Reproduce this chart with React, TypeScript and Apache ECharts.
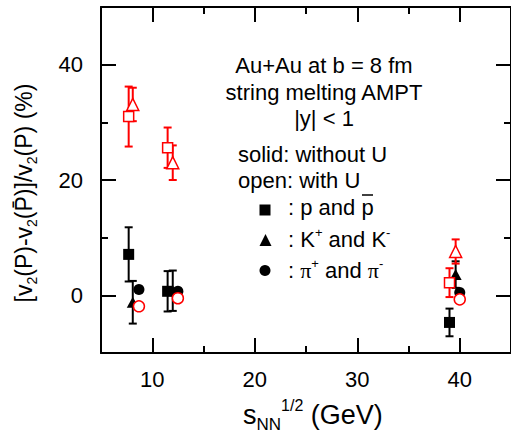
import React, { useEffect, useRef } from 'react';
import * as echarts from 'echarts';

// Beam energies (GeV) with the small horizontal offsets used per species
const protonX = [7.7, 11.5, 39.0];
const kaonX = [8.1, 12.0, 39.6];
const pionX = [8.7, 12.5, 40.0];

// solid = without U (black), open = with U (red)
const protonNoU = [7.1, 0.7, -4.7];
const protonNoUErr = [4.7, 3.5, 2.4];
const protonU = [31.0, 25.6, 2.2];
const protonUErr = [5.2, 3.5, 2.5];
const kaonNoU = [-1.2, 0.8, 3.6];
const kaonNoUErr = [3.7, 3.5, 2.3];
const kaonU = [33.1, 23.0, 7.6];
const kaonUErr = [2.9, 3.0, 2.1];
const pionNoU = [1.0, 0.7, 0.5];
const pionNoUErr = [0.4, 0.4, 0.4];
const pionU = [-1.9, -0.5, -0.7];
const pionUErr = [0.4, 0.4, 0.4];

const xMajorTicks = [10, 20, 30, 40];
const xMinorTicks = [15, 25, 35];
const yMajorTicks = [0, 20, 40];
const yMinorTicks = [10, 30];

const FONT = '"Liberation Sans", Arial, Helvetica, sans-serif';
const RED = '#ff0000';
const BLACK = '#000000';

function errorSeries(xs: number[], ys: number[], errs: number[], color: string, z: number) {
  return {
    type: 'custom',
    xAxisIndex: 0,
    yAxisIndex: 0,
    silent: true,
    z,
    data: xs.map((x, i) => [x, ys[i] - errs[i], ys[i] + errs[i]]),
    encode: { x: 0, y: [1, 2] },
    renderItem: (params: any, api: any) => {
      const x = api.value(0);
      const lo = api.coord([x, api.value(1)]);
      const hi = api.coord([x, api.value(2)]);
      const hw = 4;
      const st = { stroke: color, lineWidth: 2 };
      return {
        type: 'group',
        children: [
          { type: 'line', shape: { x1: lo[0], y1: lo[1], x2: hi[0], y2: hi[1] }, style: st },
          { type: 'line', shape: { x1: lo[0] - hw, y1: lo[1], x2: lo[0] + hw, y2: lo[1] }, style: st },
          { type: 'line', shape: { x1: hi[0] - hw, y1: hi[1], x2: hi[0] + hw, y2: hi[1] }, style: st },
        ],
      };
    },
  };
}

function markerSeries(xs: number[], ys: number[], symbol: string, size: any, open: boolean, z: number) {
  return {
    type: 'scatter',
    xAxisIndex: 0,
    yAxisIndex: 0,
    z,
    silent: true,
    symbol,
    symbolSize: size,
    data: xs.map((x, i) => [x, ys[i]]),
    itemStyle: open
      ? { color: '#ffffff', borderColor: RED, borderWidth: 1.5, opacity: 1 }
      : { color: BLACK, borderWidth: 0, opacity: 1 },
  };
}

function xAx(position: string, ticks: number[], len: number, line: boolean, labels: boolean) {
  return {
    type: 'value',
    min: 5,
    max: 45,
    position,
    splitLine: { show: false },
    axisLine: { show: line, onZero: false, lineStyle: { color: BLACK, width: 2 } },
    axisTick: { show: true, inside: true, length: len, customValues: ticks, lineStyle: { color: BLACK, width: 2 } },
    axisLabel: labels
      ? { show: true, customValues: ticks, margin: 15, color: BLACK, fontSize: 22, fontFamily: FONT }
      : { show: false },
    minorTick: { show: false },
  };
}

function yAx(position: string, ticks: number[], len: number, line: boolean, labels: boolean) {
  return {
    type: 'value',
    min: -10,
    max: 50,
    position,
    splitLine: { show: false },
    axisLine: { show: line, onZero: false, lineStyle: { color: BLACK, width: 2 } },
    axisTick: { show: true, inside: true, length: len, customValues: ticks, lineStyle: { color: BLACK, width: 2 } },
    axisLabel: labels
      ? { show: true, customValues: ticks, margin: 18, color: BLACK, fontSize: 22, fontFamily: FONT }
      : { show: false },
    minorTick: { show: false },
  };
}

export default function App() {
  const ref = useRef<HTMLDivElement>(null);

  useEffect(() => {
    if (!ref.current) return;
    const chart = echarts.init(ref.current, null, { renderer: 'svg' });

    const mainText = { fontSize: 22, fontFamily: FONT, verticalAlign: 'middle', lineHeight: 26, fill: BLACK };
    const supText = { fontSize: 13, fontFamily: FONT, verticalAlign: 'top', lineHeight: 13, fill: BLACK };

    chart.setOption({
      animation: false,
      backgroundColor: '#ffffff',
      grid: { left: 101, top: 7, width: 412, height: 346, show: false },
      xAxis: [
        xAx('bottom', xMajorTicks, 15, true, true),
        xAx('bottom', xMinorTicks, 7, false, false),
        xAx('top', xMajorTicks, 15, true, false),
        xAx('top', xMinorTicks, 7, false, false),
      ],
      yAxis: [
        yAx('left', yMajorTicks, 15, true, true),
        yAx('left', yMinorTicks, 7, false, false),
        yAx('right', yMajorTicks, 15, true, false),
        yAx('right', yMinorTicks, 7, false, false),
      ],
      series: [
        errorSeries(protonX, protonNoU, protonNoUErr, BLACK, 2),
        errorSeries(kaonX, kaonNoU, kaonNoUErr, BLACK, 2),
        errorSeries(pionX, pionNoU, pionNoUErr, BLACK, 2),
        markerSeries(protonX, protonNoU, 'rect', 11, false, 3),
        markerSeries(kaonX, kaonNoU, 'triangle', [12, 11], false, 3),
        markerSeries(pionX, pionNoU, 'circle', 11, false, 3),
        errorSeries(protonX, protonU, protonUErr, RED, 4),
        errorSeries(kaonX, kaonU, kaonUErr, RED, 4),
        errorSeries(pionX, pionU, pionUErr, RED, 4),
        markerSeries(protonX, protonU, 'rect', 10, true, 5),
        markerSeries(kaonX, kaonU, 'triangle', [12, 12], true, 5),
        markerSeries(pionX, pionU, 'circle', 11, true, 5),
      ],
      graphic: [
        // annotation block
        { type: 'text', x: 324, y: 65.5, style: { text: 'Au+Au at b = 8 fm', fontSize: 22, fontFamily: FONT, fill: BLACK, align: 'center', verticalAlign: 'middle' } },
        { type: 'text', x: 324, y: 92.5, style: { text: 'string melting AMPT', fontSize: 22, fontFamily: FONT, fill: BLACK, align: 'center', verticalAlign: 'middle' } },
        { type: 'text', x: 324, y: 118.5, style: { text: '|y| < 1', fontSize: 22, fontFamily: FONT, fill: BLACK, align: 'center', verticalAlign: 'middle' } },
        { type: 'text', x: 238, y: 154.4, style: { text: 'solid: without U', fontSize: 22, fontFamily: FONT, fill: BLACK, align: 'left', verticalAlign: 'middle' } },
        { type: 'text', x: 238, y: 180.4, style: { text: 'open: with U', fontSize: 22, fontFamily: FONT, fill: BLACK, align: 'left', verticalAlign: 'middle' } },
        // legend symbols
        { type: 'rect', shape: { x: 259.5, y: 204.5, width: 11, height: 11 }, style: { fill: BLACK } },
        { type: 'polygon', shape: { points: [[265.5, 234], [259.5, 246], [271.5, 246]] }, style: { fill: BLACK } },
        { type: 'circle', shape: { cx: 265, cy: 270.5, r: 5.5 }, style: { fill: BLACK } },
        // legend texts
        { type: 'text', x: 288, y: 207.4, style: { text: ': p and p', fontSize: 22, fontFamily: FONT, fill: BLACK, align: 'left', verticalAlign: 'middle' } },
        { type: 'line', shape: { x1: 362, y1: 195, x2: 373, y2: 195 }, style: { stroke: BLACK, lineWidth: 1.5 } },
        {
          type: 'text', x: 288, y: 239.4,
          style: {
            text: '{a|: K}{s|+}{a| and K}{s|-}', align: 'left', verticalAlign: 'middle',
            rich: { a: mainText, s: supText },
          },
        },
        {
          type: 'text', x: 288, y: 270.4,
          style: {
            text: '{a|: }{p|\u03c0}{s|+}{a| and }{p|\u03c0}{s|-}', align: 'left', verticalAlign: 'middle',
            rich: { a: mainText, s: supText, p: { ...mainText, fontFamily: '"Liberation Serif", "Times New Roman", serif' } },
          },
        },
        // x-axis title
        {
          type: 'text', x: 243, y: 397,
          style: {
            text: '{b|s}{sub|NN}{sup|1/2}{b| (GeV)}', align: 'left', verticalAlign: 'top',
            rich: {
              b: { fontSize: 27, fontFamily: FONT, lineHeight: 36, verticalAlign: 'middle', fill: BLACK },
              sub: { fontSize: 17, fontFamily: FONT, lineHeight: 17, verticalAlign: 'bottom', fill: BLACK },
              sup: { fontSize: 16, fontFamily: FONT, lineHeight: 12, verticalAlign: 'top', fill: BLACK },
            },
          },
        },
        // y-axis title (rotated)
        {
          type: 'text', x: 24, y: 193, rotation: Math.PI / 2,
          style: {
            text: '{a|[v}{b|2}{a|(P)-v}{b|2}{a|(P\u0304)]/v}{b|2}{a|(P) (%)}', align: 'center', verticalAlign: 'middle',
            rich: {
              a: { fontSize: 23, fontFamily: FONT, lineHeight: 30, verticalAlign: 'middle', fill: BLACK },
              b: { fontSize: 14, fontFamily: FONT, lineHeight: 14, verticalAlign: 'bottom', fill: BLACK },
            },
          },
        },
      ],
    });

    return () => chart.dispose();
  }, []);

  return (
    <div
      ref={ref}
      style={{ position: 'fixed', left: 0, top: 0, width: 511, height: 434, background: '#fff' }}
    />
  );
}
